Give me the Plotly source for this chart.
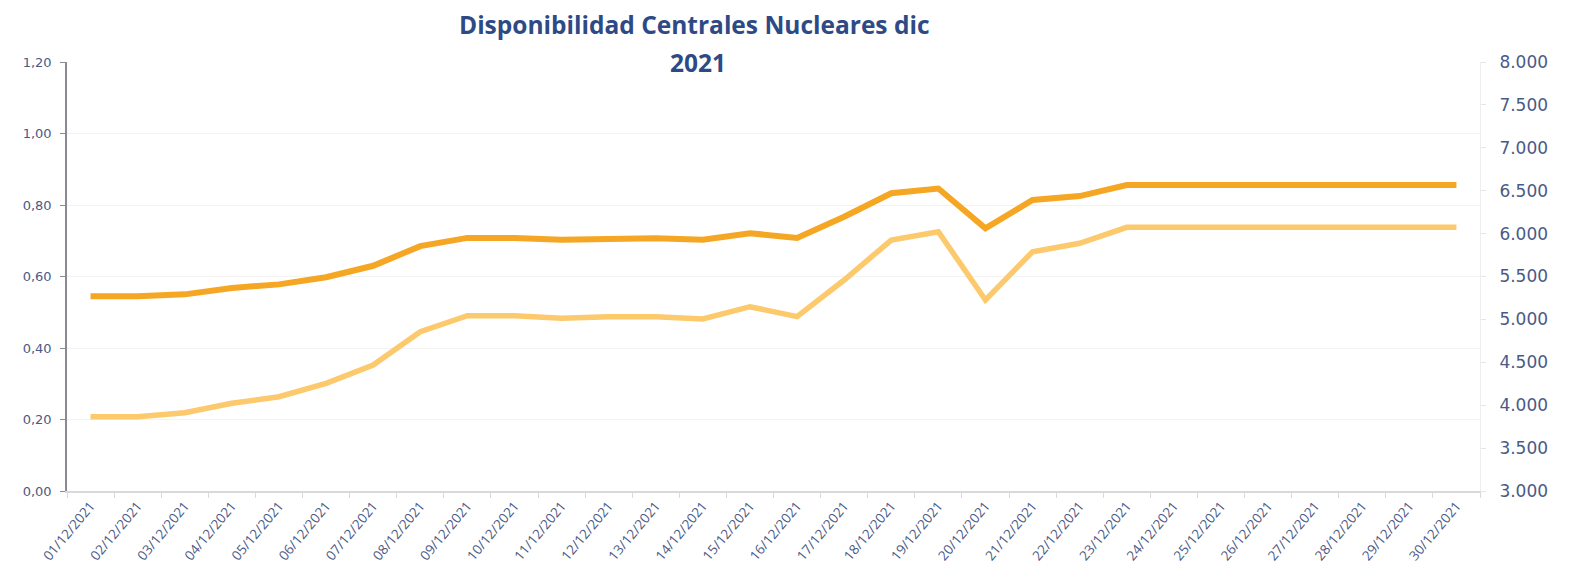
import plotly.graph_objects as go

fechas = [f"{d:02d}/12/2021" for d in range(1, 31)]

disponibilidad = [0.545, 0.545, 0.550, 0.568, 0.578, 0.598, 0.630, 0.685, 0.708, 0.708,
                  0.703, 0.707, 0.707, 0.703, 0.721, 0.708, 0.767, 0.833, 0.846, 0.735,
                  0.814, 0.825, 0.856, 0.856, 0.856, 0.856, 0.852, 0.856, 0.856, 0.856]

potencia_mw = [3866, 3866, 3913, 4022, 4099, 4255, 4468, 4857, 5043, 5043,
               5013, 5032, 5032, 5005, 5148, 5032, 5459, 5925, 6022, 5226,
               5789, 5887, 6073, 6073, 6073, 6073, 6073, 6073, 6073, 6073]

left_ticks = [0.0, 0.2, 0.4, 0.6, 0.8, 1.0, 1.2]
right_ticks = [3000, 3500, 4000, 4500, 5000, 5500, 6000, 6500, 7000, 7500, 8000]

label_color = "#4b5a85"
title_color = "#2e4a86"

W, H = 1565, 567
L, R, T, B = 59, 93, 54, 84

fig = go.Figure()
fig.add_trace(go.Scatter(x=fechas, y=disponibilidad, mode="lines", name="Disponibilidad",
                         line=dict(color="#F5A623", width=6), yaxis="y"))
fig.add_trace(go.Scatter(x=fechas, y=potencia_mw, mode="lines", name="MW",
                         line=dict(color="#FCC96C", width=5.5), yaxis="y2"))

fig.update_layout(
    width=W, height=H,
    margin=dict(l=L, r=R, t=T, b=B, autoexpand=False),
    paper_bgcolor="white", plot_bgcolor="white",
    separators=",.",
    showlegend=False,
    font=dict(family="Open Sans", color=label_color),
    xaxis=dict(
        type="category", tickangle=-50, tickson="boundaries", automargin=False,
        ticks="outside", ticklen=5, tickcolor="#d9d9d9",
        showline=True, linecolor="#d9d9d9", linewidth=1.5,
        showgrid=False, tickfont=dict(size=13.5, color=label_color),
        range=[-0.5, 29.5],
    ),
    yaxis=dict(
        range=[0, 1.2], tickvals=left_ticks, tickformat=".2f", automargin=False,
        showline=True, linecolor="#8a8a95", linewidth=1.5,
        ticks="outside", ticklen=5, tickcolor="#8a8a95", ticklabelstandoff=6,
        showgrid=True, gridcolor="#f3f3f3", zeroline=False,
        tickfont=dict(family="DejaVu Sans", size=13, color=label_color),
    ),
    yaxis2=dict(
        overlaying="y", side="right", automargin=False,
        range=[3000, 8000], tickvals=right_ticks, tickformat=",.0f",
        showline=True, linecolor="#eeeeee", linewidth=1,
        ticks="outside", ticklen=5, tickcolor="#e6e6e6", ticklabelstandoff=10,
        showgrid=False, zeroline=False,
        tickfont=dict(family="DejaVu Sans", size=17, color=label_color),
    ),
)

pw = W - L - R
ph = H - T - B
fig.add_annotation(text="<b>Disponibilidad Centrales Nucleares dic</b>", xref="paper", yref="paper",
                   x=(694 - 8 - L) / pw, y=1 + (T + 8 - 25) / ph,
                   xanchor="center", yanchor="middle", showarrow=False,
                   font=dict(family="Open Sans", size=24.5, color=title_color))
fig.add_annotation(text="<b>2021</b>", xref="paper", yref="paper",
                   x=(698 - 8 - L) / pw, y=1,
                   xanchor="center", yanchor="middle", showarrow=False,
                   font=dict(family="Open Sans", size=24.5, color=title_color))

fig.write_html("out.html")
